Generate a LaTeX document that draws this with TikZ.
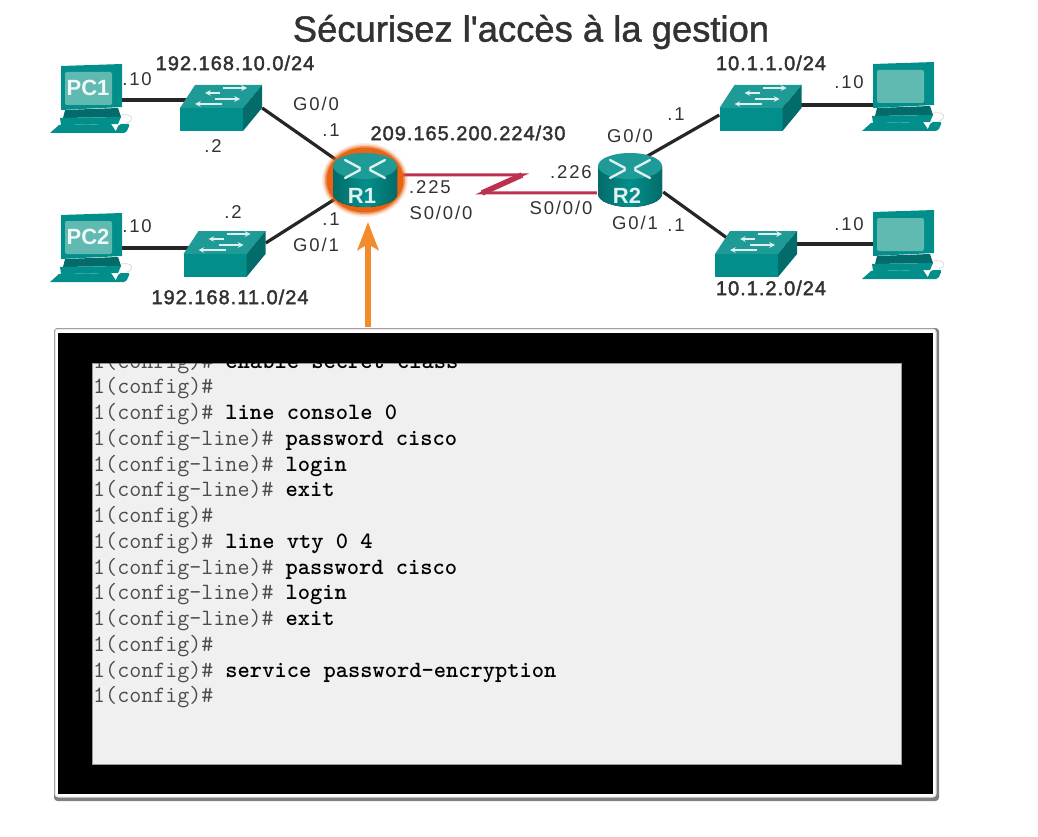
\documentclass[tikz,border=0pt]{standalone}
\usepackage{fontspec}
\setmainfont{Liberation Sans}
\newfontfamily\titlefont[FakeBold=1.2]{Liberation Sans}
\newfontfamily\lblfont[LetterSpace=10]{Liberation Sans}
\newfontfamily\netfont[LetterSpace=5,FakeBold=2]{Liberation Sans}
\usetikzlibrary{arrows.meta,positioning}
\definecolor{tealTop}{RGB}{30,155,150}
\definecolor{tealFront}{RGB}{2,143,139}
\definecolor{tealSide}{RGB}{3,108,106}
\definecolor{tealScreen}{RGB}{96,186,178}
\definecolor{serialRed}{RGB}{188,48,80}
\definecolor{calloutOrange}{RGB}{243,138,44}
\definecolor{haloOrange}{RGB}{232,100,20}
\definecolor{textDark}{RGB}{50,50,50}
\definecolor{consoleGrey}{RGB}{240,240,240}
\newcommand{\conf}{(config)\#}
\newcommand{\confl}{(config-line)\#}
\tikzset{
  lbl/.style={font=\lblfont\fontsize{18.5}{20}\selectfont,text=textDark,inner sep=0pt},
  netlbl/.style={font=\netfont\fontsize{20}{22}\selectfont,text=textDark,inner sep=0pt},
  anchorbox/.style={inner sep=0pt,minimum width=#1},
  ethlink/.style={line width=3.2pt,black!85},
  seriallink/.style={line width=3pt,serialRed,line join=miter},
  pcicon/.pic={
    \fill[tealFront] (-30,-21) -- (31,-23) -- (31,20) -- (-30,23) -- cycle;
    \fill[tealScreen,rounded corners=2] (-26,-15) rectangle (21,18);
    \node (txt) [font=\bfseries\fontsize{22}{22}\selectfont,text=white!90!tealScreen,inner sep=0pt] at (-3,1) {#1};
    \fill[tealSide] (-26,23) -- (27,21) -- (30,30) -- (-28,31) -- cycle;
    \fill[tealFront] (-31,31) -- (30,30) -- (27,37) -- (-30,38) -- cycle;
    \fill[tealFront] (-32,38) -- (20,37) -- (26,46) -- (-41,46) -- cycle;
    \fill[tealFront,rounded corners=2] (28,37) -- (39,37) -- (35,46) -- (24,46) -- cycle;
    \draw[black!15,line width=0.8pt] (30,28) .. controls (42,26) and (44,33) .. (36,36);
  },
  switchicon/.pic={
    \fill[tealTop] (-26,-23) -- (41,-23) -- (22,0) -- (-41,0) -- cycle;
    \fill[tealFront] (-41,0) rectangle (22,23);
    \fill[tealSide] (22,0) -- (41,-23) -- (41,0) -- (22,23) -- cycle;
    \draw[white!85!tealTop,line width=1.5pt,-stealth] (2,-20) -- (26,-20);
    \draw[white!85!tealTop,line width=1.5pt,-stealth] (-1,-15) -- (-16,-15);
    \draw[white!85!tealTop,line width=1.5pt,-stealth] (-6,-9) -- (19,-9);
    \draw[white!85!tealTop,line width=1.5pt,-stealth] (1,-4) -- (-26,-4);
  },
  routericon/.pic={
    \fill[left color=tealSide,right color=tealSide,middle color=tealFront] (-32,-14) -- (-32,14) arc[start angle=180,end angle=0,x radius=32,y radius=13] -- (32,-14) -- cycle;
    \fill[tealTop] (0,-14) ellipse[x radius=32,y radius=13];
    \foreach \sx in {-1,1}{
      \draw[white!85!tealTop,line width=2.4pt,line cap=round] (\sx*20,-20) -- (\sx*5,-12);
      \draw[white!85!tealTop,line width=2.4pt,line cap=round] (\sx*20,-2) -- (\sx*5,-10);
    }
    \node (txt) [font=\bfseries\fontsize{22}{22}\selectfont,text=white!80!tealScreen,inner sep=0pt] at (-3,16) {#1};
  }
}
\begin{document}
\begin{tikzpicture}[x=1pt,y=-1pt]
\useasboundingbox (0,0) rectangle (1038,837);
%Knoten nur als Anker
\node (PC1) [anchorbox=62] at (91,100) {};
\node (PC2) [anchorbox=62] at (91,248) {};
\node (PC3) [anchorbox=60] at (903,105) {};
\node (PC4) [anchorbox=60] at (903,244) {};
\node (SW1) [anchorbox=82] at (221,108) {};
\node (SW2) [anchorbox=82] at (224.5,254) {};
\node (SW3) [anchorbox=82] at (760.5,108) {};
\node (SW4) [anchorbox=82] at (756,254) {};
\node (R1) [anchorbox=66] at (365,180) {};
\node (R2) [anchorbox=66] at (630,180) {};
\coordinate (zTop) at (522,175);
\coordinate (zLow) at (482,193);
\coordinate (arrowFoot) at (368,327);
\coordinate (arrowTip) at (368,222);
%Leitungen
\draw[ethlink] (PC1.east) -- (PC1.east -| SW1);
\draw[ethlink] (PC2.east) -- (PC2.east -| SW2);
\draw[ethlink] (PC3.west) -- (PC3.west -| SW3);
\draw[ethlink] (PC4.west) -- (PC4.west -| SW4);
\draw[ethlink] (SW1.east) -- (R1);
\draw[ethlink] ([yshift=11pt]SW2.east) -- (R1);
\draw[ethlink] ([yshift=14pt]R2.center) -- ([yshift=-7pt]SW3.west);
\draw[ethlink] ([yshift=-12pt]R2.east) -- ([xshift=15pt,yshift=14pt]SW4.west);
\draw[seriallink] ([yshift=5pt]R1.east) -- (zTop) -- (zLow) -- ([yshift=-13pt]R2.west);
\draw[seriallink,line width=5.5pt] (zTop) -- (zLow);
%Glow um R1
\foreach \w/\o in {43/0.12,41.5/0.25,40/0.5}{
  \fill[haloOrange,opacity=\o] (R1) ellipse[x radius=\w,y radius=\w-6];
}
\fill[haloOrange] (R1) ellipse[x radius=38.5,y radius=32.5];
%Geraete
\pic (iconPC1) at (91,87) {pcicon=PC1};
\pic (iconPC2) at (91,236) {pcicon=PC2};
\pic (iconPC3) at (903,85) {pcicon=};
\pic (iconPC4) at (903,233) {pcicon=};
\foreach \sw in {SW1,SW2,SW3,SW4}{
  \pic (icon\sw) at (\sw) {switchicon};
}
\pic (iconR1) at (R1) {routericon=R1};
\pic (iconR2) at (R2) {routericon=R2};
\draw[calloutOrange,line width=5.5pt,-{Stealth[length=28pt,width=21pt,inset=6pt]}] (arrowFoot) -- (arrowTip);
%Texte
\node (title) [font=\titlefont\fontsize{36.4}{38}\selectfont,text=textDark,inner sep=0pt] at (531,32) {Sécurisez l'accès à la gestion};
\node (netA) [netlbl] at (235,63) {192.168.10.0/24};
\node (netB) [netlbl] at (230,297) {192.168.11.0/24};
\node (netC) [netlbl] at (468,133) {209.165.200.224/30};
\node (netD) [netlbl] at (771,63) {10.1.1.0/24};
\node (netE) [netlbl] at (771,288) {10.1.2.0/24};
\node (ipPCa) [lbl] at (137,79) {.10};
\node (ipPCb) [lbl] at (137,226) {.10};
\node (ipSWa) [lbl] at (213,146) {.2};
\node (ipSWb) [lbl] at (233,212) {.2};
\node (gOa) [lbl] at (316,104) {G0/0};
\node (ipRa) [lbl] at (331,130) {.1};
\node (ipRb) [lbl] at (331,219) {.1};
\node (gOb) [lbl] at (316,245) {G0/1};
\node (ipSa) [lbl] at (430,187) {.225};
\node (sOa) [lbl] at (441,213) {S0/0/0};
\node (ipSb) [lbl] at (571,172) {.226};
\node (sOb) [lbl] at (561,208) {S0/0/0};
\node (gOc) [lbl] at (630,136) {G0/0};
\node (gOd) [lbl] at (635,223) {G0/1};
\node (ipRc) [lbl] at (676,114) {.1};
\node (ipRd) [lbl] at (676,225) {.1};
\node (ipPCc) [lbl] at (849,82) {.10};
\node (ipPCd) [lbl] at (849,224) {.10};
%Konsole
\node (shadow) [draw=black!50,fill=black!50,line width=1pt,rounded corners=3pt,minimum width=884pt,minimum height=472pt,inner sep=0pt] at (496.5,564.5) {};
\node (panel) [draw=black!12,fill=white,line width=1pt,rounded corners=3pt,minimum width=881pt,minimum height=468pt,inner sep=0pt] at (495.5,563) {};
\fill[black] (58,333) rectangle (933,794);
\draw[black!40,line width=0.8pt,fill=consoleGrey] (92,363) rectangle (901,764);
\begin{scope}
  \clip (92,363) rectangle (901,764);
  \foreach \i/\p/\c in {0/\conf/enable secret class,1/\conf/,2/\conf/line console 0,3/\confl/password cisco,4/\confl/login,5/\confl/exit,6/\conf/,7/\conf/line vty 0 4,8/\confl/password cisco,9/\confl/login,10/\confl/exit,11/\conf/,12/\conf/service password-encryption,13/\conf/}{
    \pgfmathsetmacro{\yLine}{368+25.75*\i}
    \node (line\i) [anchor=base west,inner sep=0pt,font=\ttfamily\fontsize{23.35}{24}\selectfont] at (93,\yLine) {\textcolor{black!70}{1\p} \textbf{\c}};
  }
\end{scope}
\end{tikzpicture}
\end{document}
